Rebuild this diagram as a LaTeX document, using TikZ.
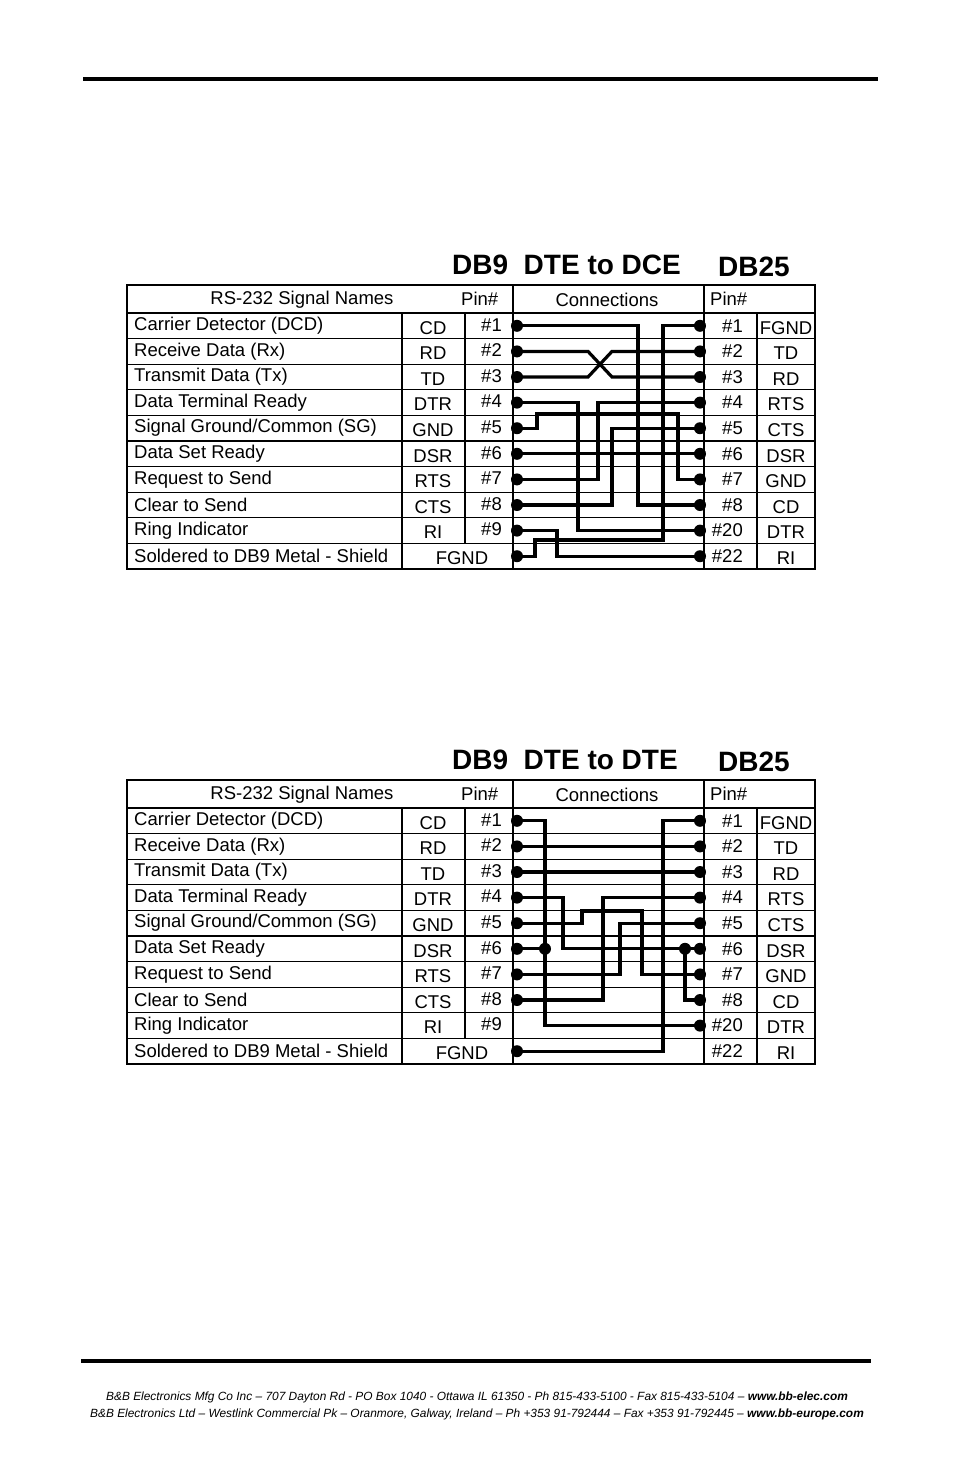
\documentclass[tikz,border=0pt]{standalone}
\usepackage{fontspec}
\setmainfont{Liberation Sans}
\usetikzlibrary{calc}

\tikzset{
  tbl/.style={line width=1.3pt},
  wire/.style={line width=3.2pt},
  dot/.style={circle,fill=black,inner sep=0pt,minimum size=12pt},
  cell/.style={inner sep=0pt,font=\fontsize{18.5}{18.5}\selectfont},
  title/.style={inner sep=0pt,font=\fontsize{28}{28}\selectfont\bfseries},
  rule/.style={line width=4.5pt},
  foot/.style={inner sep=0pt,font=\fontsize{11.9}{11.9}\selectfont\itshape}
}

% one table with its titles, top edge at y=285
\newcommand{\pintable}[1]{%
  \node[title,anchor=west] (ttl) at (452,265) {DB9\ \ #1};
  \node[title,anchor=west] (tdb) at (718,267) {DB25};
  \draw[tbl] (127,285) rectangle (815,569);
  \draw[tbl] (127,313) -- (815,313);
  \foreach \i in {1,...,9}
    \draw[tbl] (127,{313+25.6*\i}) -- (815,{313+25.6*\i});
  \draw[tbl] (513,285) -- (513,569);
  \draw[tbl] (704,285) -- (704,569);
  \draw[tbl] (402,313) -- (402,569);
  \draw[tbl] (465,313) -- (465,543.4);
  \draw[tbl] (757,313) -- (757,569);
  \node[cell] (hname) at (302,300) {RS-232 Signal Names};
  \node[cell,anchor=west] (hpin) at (461,299) {Pin\#};
  \node[cell] (hcon) at (607,300) {Connections};
  \node[cell,anchor=west] (hpinr) at (710,299) {Pin\#};
  \foreach \nm/\ab/\lp/\rp/\rn [count=\i] in {
      {Carrier Detector (DCD)}/CD/1/1/FGND,
      {Receive Data (Rx)}/RD/2/2/TD,
      {Transmit Data (Tx)}/TD/3/3/RD,
      {Data Terminal Ready}/DTR/4/4/RTS,
      {Signal Ground/Common (SG)}/GND/5/5/CTS,
      {Data Set Ready}/DSR/6/6/DSR,
      {Request to Send}/RTS/7/7/GND,
      {Clear to Send}/CTS/8/8/CD,
      {Ring Indicator}/RI/9/20/DTR,
      {Soldered to DB9 Metal - Shield}/ /{}/22/RI} {
    \coordinate (L\i) at (517,{313+25.6*(\i-0.5)});
    \coordinate (R\i) at (700,{313+25.6*(\i-0.5)});
    \node[cell,anchor=west] (n\i) at (134,{313+25.6*(\i-0.5)}) {\nm};
    \node[cell] (a\i) at (433,{315+25.6*(\i-0.5)}) {\ab};
    \node[cell,anchor=east] (p\i) at (502,{312+25.6*(\i-0.5)}) {\ifx\lp\empty\else\#\lp\fi};
    \node[cell,anchor=east] (q\i) at (743,{313+25.6*(\i-0.5)}) {\#\rp};
    \node[cell] (s\i) at (786,{315+25.6*(\i-0.5)}) {\rn};
  }
  \node[cell] (fgnd) at (462,{315+25.6*9.5}) {FGND};
  \foreach \x in {535,537,545,557,563,578,582,588,598,603,612,620,638,642,663,678,685}
    \coordinate (x\x) at (\x,0);
}

\begin{document}
\begin{tikzpicture}[x=1pt,y=-1pt]
  \useasboundingbox (0,0) rectangle (954,1475);
  \fill[white] (0,0) rectangle (954,1475);

  \draw[rule] (83,79) -- (878,79);
  \draw[rule] (81,1361) -- (871,1361);

  % DTE to DCE
  \begin{scope}
    \pintable{DTE to DCE}
    \draw[wire] (L1) -| (x638 |- R8) -- (R8);
    \draw[wire] (L2) -- (L2 -| x588) -- (R3 -| x612) -- (R3);
    \draw[wire] (L3) -- (L3 -| x588) -- (R2 -| x612) -- (R2);
    \draw[wire] (L4) -| (x578 |- R9) -- (R9);
    \coordinate (g1) at (537,414);
    \coordinate (g2) at (678,414);
    \draw[wire] (L5) -| (g1) -- (g2) |- (R7);
    \draw[wire] (L6) -- (R6);
    \draw[wire] (L7) -| (x598 |- R4) -- (R4);
    \draw[wire] (L8) -| (x612 |- R5) -- (R5);
    \draw[wire] (L9) -| (x557 |- R10) -- (R10);
    \coordinate (f1) at (535,540);
    \coordinate (f2) at (663,540);
    \draw[wire] (L10) -| (f1) -- (f2) |- (R1);
    \foreach \i in {1,...,10} {
      \node[dot] at (L\i) {};
      \node[dot] at (R\i) {};
    }
  \end{scope}

  % DTE to DTE
  \begin{scope}[shift={(0,495)}]
    \pintable{DTE to DTE}
    \draw[wire] (L1) -| (x545 |- R9) -- (R9);
    \draw[wire] (L6) -- (x545 |- L6);
    \draw[wire] (L2) -- (R2);
    \draw[wire] (L3) -- (R3);
    \draw[wire] (L4) -| (x563 |- R6) -- (R6);
    \draw[wire] (x685 |- R6) |- (R8);
    \coordinate (g3) at (582,416);
    \coordinate (g4) at (642,416);
    \draw[wire] (L5) -| (g3) -- (g4) |- (R7);
    \draw[wire] (L7) -| (x620 |- R5) -- (R5);
    \draw[wire] (L8) -| (x603 |- R4) -- (R4);
    \draw[wire] (L10) -| (x663 |- R1) -- (R1);
    \foreach \i in {1,...,8,10} \node[dot] at (L\i) {};
    \foreach \i in {1,...,9} \node[dot] at (R\i) {};
    \node[dot] at (x545 |- L6) {};
    \node[dot] at (x685 |- R6) {};
  \end{scope}

  \node[foot] (foot1) at (477,1397)
    {B\&B Electronics Mfg Co Inc -- 707 Dayton Rd - PO Box 1040 - Ottawa IL 61350 - Ph 815-433-5100 - Fax 815-433-5104 -- \textbf{www.bb-elec.com}};
  \node[foot] (foot2) at (477,1414)
    {B\&B Electronics Ltd -- Westlink Commercial Pk -- Oranmore, Galway, Ireland -- Ph +353 91-792444 -- Fax +353 91-792445 -- \textbf{www.bb-europe.com}};
\end{tikzpicture}
\end{document}
